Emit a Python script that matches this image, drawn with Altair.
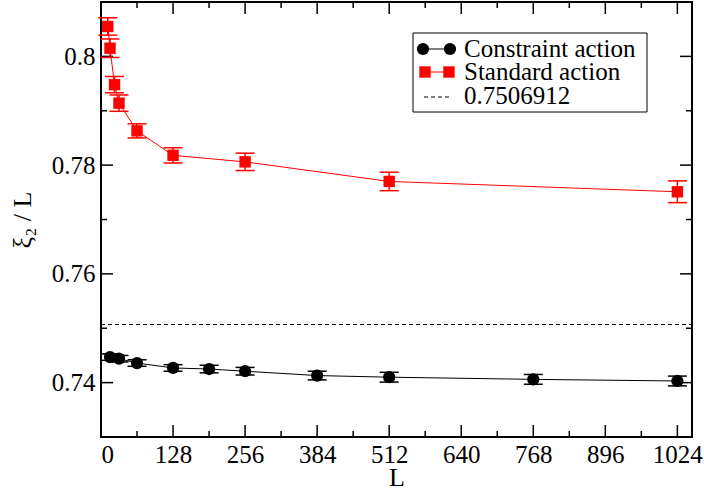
import altair as alt
import pandas as pd

# ---- data ----
std_L = [12, 16, 24, 32, 64, 128, 256, 512, 1024]
std_val = [0.8055, 0.8015, 0.7948, 0.7914, 0.7863, 0.7818, 0.7806, 0.7770, 0.7751]
std_err = [0.0016, 0.0017, 0.0015, 0.0015, 0.0013, 0.0014, 0.0016, 0.0017, 0.0020]

con_L = [16, 32, 64, 128, 192, 256, 384, 512, 768, 1024]
con_val = [0.7447, 0.7444, 0.7436, 0.7427, 0.7425, 0.7421, 0.7413, 0.7410, 0.7406, 0.7403]
con_err = [0.0006, 0.0006, 0.0006, 0.0006, 0.0007, 0.0007, 0.0008, 0.0009, 0.0009, 0.0009]

ref_value = [0.7506912]
legend_labels = ["Constraint action", "Standard action", "0.7506912"]

x_major = [0, 128, 256, 384, 512, 640, 768, 896, 1024]
x_minor = [64, 192, 320, 448, 576, 704, 832, 960]
y_major = [0.74, 0.76, 0.78, 0.80]
y_minor = [0.75, 0.77, 0.79]

W, H = 591, 435
FONT = "Liberation Serif"

xs = alt.Scale(domain=[0, 1050], nice=False, zero=False)
ys = alt.Scale(domain=[0.73, 0.81], nice=False, zero=False)

x_axis = alt.Axis(
    values=x_major, format="d", title="L", domain=False, ticks=False, grid=False,
    labelFont=FONT, labelFontSize=25, labelColor="black", labelPadding=5,
    titleFont=FONT, titleFontSize=26, titleFontWeight="normal", titleColor="black",
    titleY=48, titleBaseline="alphabetic")
y_axis = alt.Axis(
    values=y_major, format=".2~f", title="ξ₂ / L", domain=False, ticks=False, grid=False,
    labelFont=FONT, labelFontSize=25, labelColor="black", labelPadding=6,
    titleFont=FONT, titleFontSize=26, titleFontWeight="normal", titleColor="black",
    titlePadding=16)


def X(f):
    return alt.X(f"{f}:Q", scale=xs, axis=x_axis, title="L")


def Y(f):
    return alt.Y(f"{f}:Q", scale=ys, axis=y_axis, title="ξ₂ / L")


std = pd.DataFrame({"L": std_L, "v": std_val,
                    "lo": [v - e for v, e in zip(std_val, std_err)],
                    "hi": [v + e for v, e in zip(std_val, std_err)]})
con = pd.DataFrame({"L": con_L, "v": con_val,
                    "lo": [v - e for v, e in zip(con_val, con_err)],
                    "hi": [v + e for v, e in zip(con_val, con_err)]})

con_line = alt.Chart(con).mark_line(color="black", strokeWidth=1).encode(x=X("L"), y=Y("v"))
con_pts = alt.Chart(con).mark_circle(size=150, color="black", opacity=1).encode(x=X("L"), y=Y("v"))
con_bar = alt.Chart(con).mark_rule(color="black", strokeWidth=1.5).encode(x=X("L"), y=Y("lo"), y2="hi")
con_cap_lo = alt.Chart(con).mark_tick(orient="horizontal", size=19, thickness=1.5, color="black", opacity=1).encode(x=X("L"), y=Y("lo"))
con_cap_hi = alt.Chart(con).mark_tick(orient="horizontal", size=19, thickness=1.5, color="black", opacity=1).encode(x=X("L"), y=Y("hi"))

std_line = alt.Chart(std).mark_line(color="#ff0000", strokeWidth=1).encode(x=X("L"), y=Y("v"))
std_pts = alt.Chart(std).mark_square(size=130, color="#ff0000", opacity=1).encode(x=X("L"), y=Y("v"))
std_bar = alt.Chart(std).mark_rule(color="#ff0000", strokeWidth=1.5).encode(x=X("L"), y=Y("lo"), y2="hi")
std_cap_lo = alt.Chart(std).mark_tick(orient="horizontal", size=19, thickness=1.5, color="#ff0000", opacity=1).encode(x=X("L"), y=Y("lo"))
std_cap_hi = alt.Chart(std).mark_tick(orient="horizontal", size=19, thickness=1.5, color="#ff0000", opacity=1).encode(x=X("L"), y=Y("hi"))

ref = alt.Chart(pd.DataFrame({"v": ref_value})).mark_rule(
    color="black", strokeWidth=1, strokeDash=[4, 3]).encode(
    y=Y("v"), x=alt.value(0), x2=alt.value(W))

# inward ticks on all four sides
xmaj = pd.DataFrame({"t": x_major})
xmin = pd.DataFrame({"t": x_minor})
ymaj = pd.DataFrame({"t": y_major})
ymin = pd.DataFrame({"t": y_minor})
tk = dict(color="black", strokeWidth=1.5)
ticks = [
    alt.Chart(xmaj).mark_rule(**tk).encode(x=X("t"), y=alt.value(H), y2=alt.value(H - 12)),
    alt.Chart(xmaj).mark_rule(**tk).encode(x=X("t"), y=alt.value(0), y2=alt.value(12)),
    alt.Chart(xmin).mark_rule(**tk).encode(x=X("t"), y=alt.value(H), y2=alt.value(H - 6)),
    alt.Chart(xmin).mark_rule(**tk).encode(x=X("t"), y=alt.value(0), y2=alt.value(6)),
    alt.Chart(ymaj).mark_rule(**tk).encode(y=Y("t"), x=alt.value(0), x2=alt.value(12)),
    alt.Chart(ymaj).mark_rule(**tk).encode(y=Y("t"), x=alt.value(W), x2=alt.value(W - 12)),
    alt.Chart(ymin).mark_rule(**tk).encode(y=Y("t"), x=alt.value(0), x2=alt.value(6)),
    alt.Chart(ymin).mark_rule(**tk).encode(y=Y("t"), x=alt.value(W), x2=alt.value(W - 6)),
]

# legend box (decoration, pixel placement)
one = pd.DataFrame({"a": [0]})
leg = [
    alt.Chart(one).mark_rect(fill="white", stroke="black", strokeWidth=1).encode(
        x=alt.value(312), x2=alt.value(546), y=alt.value(31), y2=alt.value(110)),
    alt.Chart(one).mark_rule(color="black", strokeWidth=1).encode(
        x=alt.value(322), x2=alt.value(349), y=alt.value(47)),
    alt.Chart(one).mark_circle(size=150, color="black", opacity=1).encode(x=alt.value(322), y=alt.value(47)),
    alt.Chart(one).mark_circle(size=150, color="black", opacity=1).encode(x=alt.value(349), y=alt.value(47)),
    alt.Chart(one).mark_rule(color="#ff0000", strokeWidth=1).encode(
        x=alt.value(324), x2=alt.value(348), y=alt.value(70)),
    alt.Chart(one).mark_square(size=130, color="#ff0000", opacity=1).encode(x=alt.value(324), y=alt.value(70)),
    alt.Chart(one).mark_square(size=130, color="#ff0000", opacity=1).encode(x=alt.value(348), y=alt.value(70)),
    alt.Chart(one).mark_rule(color="black", strokeWidth=1, strokeDash=[4, 3]).encode(
        x=alt.value(323), x2=alt.value(349), y=alt.value(95)),
]
for lab, yb in zip(legend_labels, [55, 78, 102]):
    leg.append(alt.Chart(one).mark_text(
        text=lab, font=FONT, fontSize=25, color="black", align="left", baseline="alphabetic").encode(
        x=alt.value(363), y=alt.value(yb)))

chart = alt.layer(
    ref, *ticks, con_line,
    con_bar, con_cap_lo, con_cap_hi, con_pts,
    std_line, std_bar, std_cap_lo, std_cap_hi, std_pts,
    *leg,
).properties(
    width=W, height=H,
    padding={"left": 101, "top": 2, "right": 12, "bottom": 53},
    autosize=alt.AutoSizeParams(type="none"),
    background="white",
).configure_view(
    stroke="black", strokeWidth=2
).configure_axis(
    labelFont=FONT, titleFont=FONT, labelFontSize=25, titleFontSize=26
).configure_text(font=FONT)

chart.save("out.html", embed_options={"renderer": "svg", "actions": False})
